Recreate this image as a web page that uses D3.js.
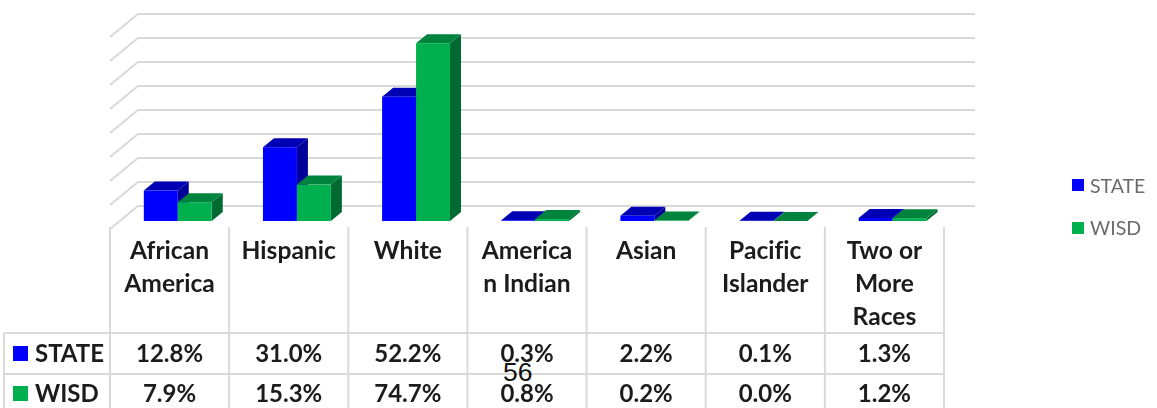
<!DOCTYPE html>
<html>
<head>
<meta charset="utf-8">
<script src="https://d3js.org/d3.v7.min.js"></script>
<style>
  html, body { margin: 0; padding: 0; background: #fff; }
  svg { display: block; }
  .cell { font-family: Lato, sans-serif; font-weight: 700; font-size: 24px; fill: #1a1a1a; font-variant-ligatures: none; }
  .header { font-size: 24.6px; }
  .legend-text { font-family: Lato, sans-serif; font-size: 19.5px; fill: #6b6b6b; }
  .page-num { font-family: "Liberation Sans", Arial, sans-serif; font-size: 26.5px; fill: #111; }
</style>
</head>
<body>
<div id="chart"></div>
<script>
// values
var categories = ["African America", "Hispanic", "White", "American Indian", "Asian", "Pacific Islander", "Two or More Races"];
var categoryLines = [["African", "America"], ["Hispanic"], ["White"], ["America", "n Indian"], ["Asian"], ["Pacific", "Islander"], ["Two or", "More", "Races"]];
var seriesNames = ["STATE", "WISD"];
var stateValues = [12.8, 31.0, 52.2, 0.3, 2.2, 0.1, 1.3];
var wisdValues = [7.9, 15.3, 74.7, 0.8, 0.2, 0.0, 1.2];
var gridTicks = [0, 10, 20, 30, 40, 50, 60, 70, 80];

var colors = {
    STATE: { front: "#0000ff", top: "#0000b4", side: "#00009a" },
    WISD: { front: "#00b050", top: "#00843c", side: "#006b30" }
};

var svgWidth = 1157;
var svgHeight = 408;

var svg = d3.select("#chart").append("svg")
    .attr("width", svgWidth)
    .attr("height", svgHeight);

// the reference is a slightly soft screenshot
svg.append("filter").attr("id", "soft")
    .append("feGaussianBlur").attr("stdDeviation", 0.7);

var chartGroup = svg.append("g").attr("filter", "url(#soft)");

// scales
var xScale = d3.scaleBand()
    .domain(categories)
    .range([110, 944])
    .paddingInner(0.43)
    .paddingOuter(0.215)
    .align(0.66);
var step = xScale.step();

var xSeries = d3.scaleBand().domain(seriesNames).range([0, xScale.bandwidth()]);

var yBar = d3.scaleLinear().domain([0, 80]).range([221, 30.6]);
var yGrid = d3.scaleLinear().domain([0, 80]).range([206, 14]);

var wallDepth = { x: 28, y: 23 };
var barDepth = { x: 11, y: 9 };

// back wall and side wall gridlines
var gridGroup = chartGroup.append("g")
    .attr("stroke", "#d9d9d9")
    .attr("stroke-width", 2)
    .attr("fill", "none");

gridGroup.selectAll("polyline")
    .data(gridTicks)
    .enter()
    .append("polyline")
    .attr("points", d => {
        var y = yGrid(d);
        return `${138 - wallDepth.x},${y + wallDepth.y} 138,${y} 975,${y}`;
    });

// bars
var barData = [];
categories.forEach(function(c, i) {
    barData.push({ category: c, series: "STATE", value: stateValues[i] });
    barData.push({ category: c, series: "WISD", value: wisdValues[i] });
});

var barGroups = chartGroup.append("g").selectAll("g")
    .data(barData)
    .enter()
    .append("g");

barGroups.append("path")
    .attr("fill", d => colors[d.series].side)
    .attr("d", function(d) {
        var x1 = xScale(d.category) + xSeries(d.series) + xSeries.bandwidth();
        var y0 = yBar(0);
        var y1 = yBar(d.value);
        return `M${x1},${y1}l${barDepth.x},${-barDepth.y}L${x1 + barDepth.x},${y0 - barDepth.y}L${x1},${y0}Z`;
    });

barGroups.append("path")
    .attr("fill", d => colors[d.series].top)
    .attr("d", function(d) {
        var x0 = xScale(d.category) + xSeries(d.series);
        var w = xSeries.bandwidth();
        var y1 = yBar(d.value);
        return `M${x0},${y1}l${barDepth.x},${-barDepth.y}h${w}l${-barDepth.x},${barDepth.y}Z`;
    });

barGroups.append("rect")
    .attr("fill", d => colors[d.series].front)
    .attr("x", d => xScale(d.category) + xSeries(d.series))
    .attr("y", d => yBar(d.value))
    .attr("width", xSeries.bandwidth())
    .attr("height", d => yBar(0) - yBar(d.value));

// data table lines
var tableGroup = chartGroup.append("g")
    .attr("stroke", "#d9d9d9")
    .attr("stroke-width", 2);

var rowLines = [333, 374];
tableGroup.selectAll("line.row")
    .data(rowLines)
    .enter()
    .append("line")
    .attr("class", "row")
    .attr("x1", 4)
    .attr("x2", 944)
    .attr("y1", d => d)
    .attr("y2", d => d);

tableGroup.selectAll("line.col")
    .data(categories.concat(["end"]))
    .enter()
    .append("line")
    .attr("class", "col")
    .attr("x1", (d, i) => 110 + i * step)
    .attr("x2", (d, i) => 110 + i * step)
    .attr("y1", 227)
    .attr("y2", 408);

tableGroup.append("line")
    .attr("x1", 4).attr("x2", 4)
    .attr("y1", 333).attr("y2", 408);

// category headers
var headers = chartGroup.append("g").selectAll("text")
    .data(categories)
    .enter()
    .append("text")
    .attr("class", "cell header")
    .attr("text-anchor", "middle")
    .attr("x", (d, i) => 110 + (i + 0.5) * step)
    .attr("y", 259);

headers.selectAll("tspan")
    .data((d, i) => categoryLines[i])
    .enter()
    .append("tspan")
    .attr("x", function() { return d3.select(this.parentNode).attr("x"); })
    .attr("dy", (d, i) => i === 0 ? 0 : 33)
    .text(d => d);

// value rows
var rows = [
    { name: "STATE", values: stateValues, baseline: 362, keySize: 15 },
    { name: "WISD", values: wisdValues, baseline: 402, keySize: 15 }
];

rows.forEach(function(row) {
    chartGroup.append("g").selectAll("text")
        .data(row.values)
        .enter()
        .append("text")
        .attr("class", "cell")
        .attr("text-anchor", "middle")
        .attr("x", (d, i) => 110 + (i + 0.5) * step)
        .attr("y", row.baseline)
        .text(d => d.toFixed(1) + "%");

    chartGroup.append("rect")
        .attr("x", 13)
        .attr("y", row.baseline - row.keySize - 1)
        .attr("width", row.keySize)
        .attr("height", row.keySize)
        .attr("fill", colors[row.name].front);

    chartGroup.append("text")
        .attr("class", "cell")
        .attr("x", 35)
        .attr("y", row.baseline)
        .text(row.name);
});

// legend
var legendRows = [
    { name: "STATE", y: 179, baseline: 193 },
    { name: "WISD", y: 222, baseline: 235 }
];

legendRows.forEach(function(item) {
    chartGroup.append("rect")
        .attr("x", 1072)
        .attr("y", item.y)
        .attr("width", 12)
        .attr("height", 12)
        .attr("fill", colors[item.name].front);

    chartGroup.append("text")
        .attr("class", "legend-text")
        .attr("x", 1090)
        .attr("y", item.baseline)
        .text(item.name);
});

// page number sits on top of the table, sharp
svg.append("text")
    .attr("class", "page-num")
    .attr("x", 503)
    .attr("y", 381)
    .text("56");
</script>
</body>
</html>
